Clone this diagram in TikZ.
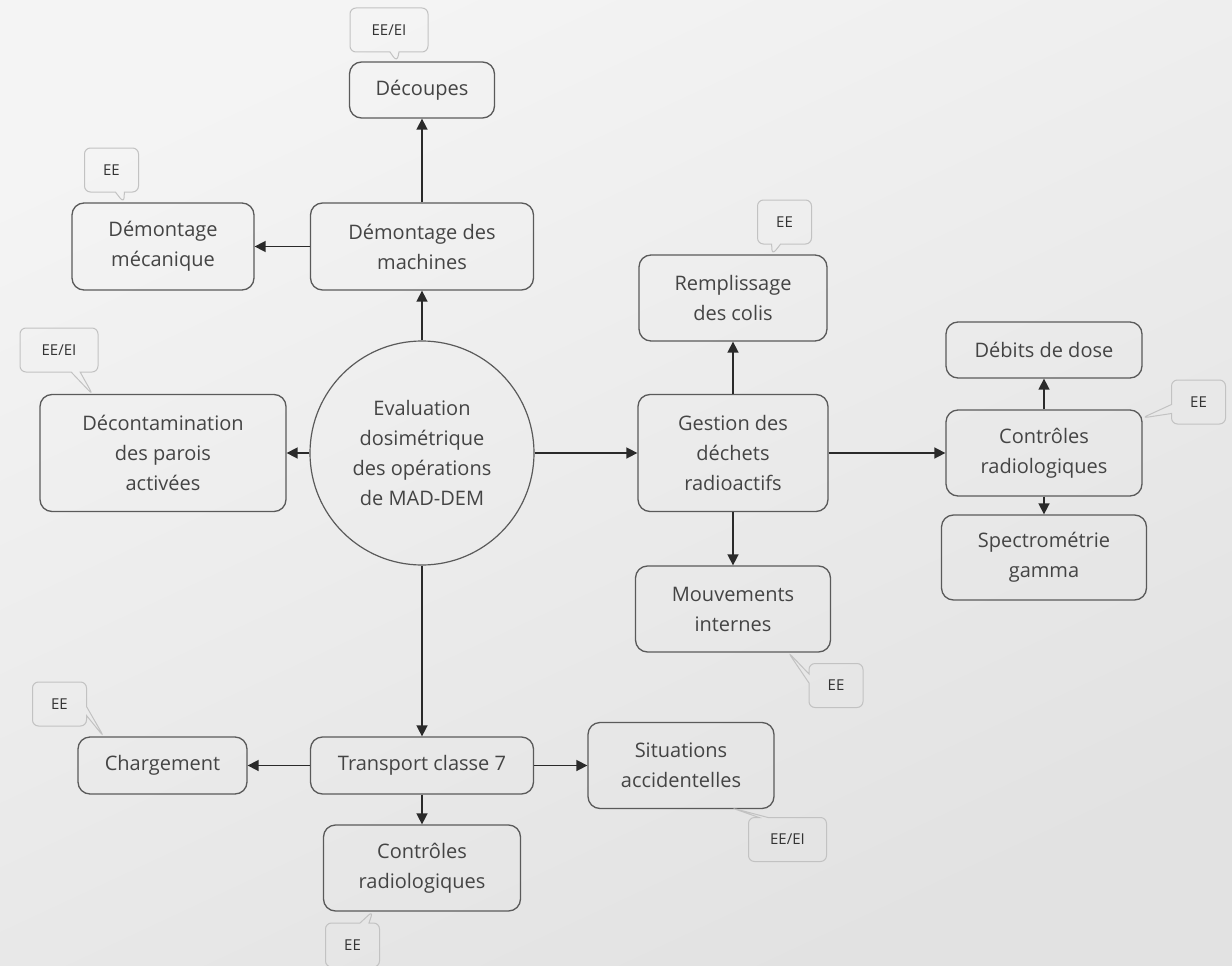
\documentclass[tikz,border=0pt]{standalone}
\usepackage{fontspec}
\setmainfont{Open Sans}
\usetikzlibrary{arrows.meta,shapes.callouts}
\definecolor{bgtop}{HTML}{F4F4F4}
\definecolor{bgbot}{HTML}{E2E2E2}
\definecolor{boxline}{HTML}{5A5A5A}
\definecolor{txt}{HTML}{444444}
\definecolor{ctxt}{HTML}{333333}
\definecolor{arr}{HTML}{2A2A2A}
\definecolor{callline}{HTML}{C2C2C2}
\tikzset{
  box/.style={draw=boxline, line width=1.3pt, rounded corners=12pt, align=center,
    text=txt, font=\fontsize{20}{30}\selectfont, inner sep=0pt},
  hub/.style={circle, draw=boxline, line width=1.2pt, minimum size=224pt, align=center,
    text=txt, font=\fontsize{20}{30}\selectfont, inner sep=0pt},
  link/.style={draw=arr, line width=1.6pt, -{Triangle[length=11pt,width=11pt]}},
  bubble/.style={rectangle callout, draw=callline, line width=1pt, rounded corners=6pt,
    minimum height=44pt, text=ctxt, font=\fontsize{15}{17}\selectfont, inner sep=0pt,
    callout pointer width=9pt},
  bubbleA/.style={bubble, minimum width=54pt},
  bubbleB/.style={bubble, minimum width=78pt}
}
\begin{document}
\begin{tikzpicture}[x=1pt,y=-1pt]
\useasboundingbox (0,0) rectangle (1232,966);
\shade[top color=bgtop, bottom color=bgbot, shading angle=25] (0,0) rectangle (1232,966);

% hub
\node[hub] (hub) at (422,453) {Evaluation\\dosimétrique\\des opérations\\de MAD-DEM};

% upper branch
\node[box, minimum width=223pt, minimum height=87pt] (dmach) at (422,246.5) {Démontage des\\machines};
\node[box, minimum width=145pt, minimum height=56pt] (decoup) at (422,90) {Découpes};
\node[box, minimum width=182pt, minimum height=87pt] (dmeca) at (163,246.5) {Démontage\\mécanique};

% left
\node[box, minimum width=246pt, minimum height=117pt] (decont) at (163,453) {Décontamination\\des parois\\activées};

% right branch
\node[box, minimum width=190pt, minimum height=117pt] (gest) at (733,453) {Gestion des\\déchets\\radioactifs};
\node[box, minimum width=188pt, minimum height=86pt] (rempl) at (733,298) {Remplissage\\des colis};
\node[box, minimum width=195pt, minimum height=86pt] (mouv) at (733,609) {Mouvements\\internes};
\node[box, minimum width=196pt, minimum height=86pt] (ctrlR) at (1044,453) {Contrôles\\radiologiques};
\node[box, minimum width=196pt, minimum height=56pt] (debits) at (1044,350) {Débits de dose};
\node[box, minimum width=205pt, minimum height=85pt] (spec) at (1044,557.5) {Spectrométrie\\gamma};

% bottom branch
\node[box, minimum width=223pt, minimum height=57pt] (transp) at (422,765.5) {Transport classe 7};
\node[box, minimum width=169pt, minimum height=57pt] (charg) at (162.5,765.5) {Chargement};
\node[box, minimum width=186pt, minimum height=86pt] (situ) at (681,765.5) {Situations\\accidentelles};
\node[box, minimum width=197pt, minimum height=86pt] (ctrlB) at (422,868) {Contrôles\\radiologiques};

% connectors
\draw[link] (hub.north) -- (dmach.south);
\draw[link] (dmach.north) -- (decoup.south);
\draw[link] (dmach.west) -- (dmeca.east);
\draw[link] (hub.west) -- (decont.east);
\draw[link] (hub.east) -- (gest.west);
\draw[link] (gest.north) -- (rempl.south);
\draw[link] (gest.south) -- (mouv.north);
\draw[link] (gest.east) -- (ctrlR.west);
\draw[link] (ctrlR.north) -- (debits.south);
\draw[link] (ctrlR.south) -- (spec.north);
\draw[link] (hub.south) -- (transp.north);
\draw[link] (transp.west) -- (charg.east);
\draw[link] (transp.east) -- (situ.west);
\draw[link] (transp.south) -- (ctrlB.north);

% callouts
\coordinate (p1) at (397,62);
\coordinate (p2) at (124,203);
\coordinate (p3) at (93,395);
\coordinate (p4) at (772,255);
\coordinate (p5) at (1142,418);
\coordinate (p6) at (788,652);
\coordinate (p7) at (732,808);
\coordinate (p8) at (373,911);
\coordinate (p9) at (104,737);
\node[bubbleB, callout absolute pointer={(p1)}] (c1) at (389,30) {EE/EI};
\node[bubbleA, callout absolute pointer={(p2)}] (c2) at (111.5,170) {EE};
\node[bubbleB, callout absolute pointer={(p3)}] (c3) at (59,350) {EE/EI};
\node[bubbleA, callout absolute pointer={(p4)}] (c4) at (784.5,222) {EE};
\node[bubbleA, callout absolute pointer={(p5)}] (c5) at (1198.5,402) {EE};
\node[bubbleA, callout absolute pointer={(p6)}] (c6) at (836,685.5) {EE};
\node[bubbleB, callout absolute pointer={(p7)}] (c7) at (787.5,839.5) {EE/EI};
\node[bubbleA, callout absolute pointer={(p8)}] (c8) at (352.5,945) {EE};
\node[bubbleA, callout absolute pointer={(p9)}] (c9) at (59.5,704) {EE};
\end{tikzpicture}
\end{document}
